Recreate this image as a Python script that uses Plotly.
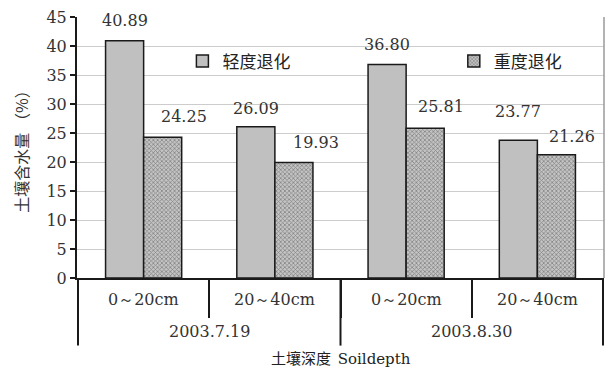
import plotly.graph_objects as go

# Sampling dates (outer level) and soil depth layers (inner level)
dates = ["2003.7.19", "2003.7.19", "2003.8.30", "2003.8.30"]
depths = ["0～20cm", "20～40cm", "0～20cm", "20～40cm"]
date_groups = ["2003.7.19", "2003.8.30"]

# Soil water content (%) by degradation level
light = [40.89, 26.09, 36.80, 23.77]
heavy = [24.25, 19.93, 25.81, 21.26]

series_names = ["轻度退化", "重度退化"]
y_ticks = [0, 5, 10, 15, 20, 25, 30, 35, 40, 45]

num_font = "DejaVu Serif"
cjk_font = "Noto Sans CJK SC"
axis_black = "#1a1a1a"

fig = go.Figure()
fig.add_trace(go.Bar(
    x=[dates, depths], y=light, name=series_names[0],
    marker=dict(color="#c0c0c0", line=dict(color=axis_black, width=1.5)),
    legend="legend",
))
fig.add_trace(go.Bar(
    x=[dates, depths], y=heavy, name=series_names[1],
    marker=dict(color="#b0b0b0", line=dict(color=axis_black, width=1.5),
                pattern=dict(shape="x", fgcolor="#444444", bgcolor="#c4c4c4",
                             size=3, solidity=0.45)),
    legend="legend2",
))

# value labels above the bars (heavy-degradation labels sit a bit to the right)
label_shift_light = [(0, 20), (0, 18), (0, 20), (0, 29)]
label_shift_heavy = [(21, 21), (22, 20), (16, 22), (16, 18)]
for vals, shifts, off in ((light, label_shift_light, -0.5), (heavy, label_shift_heavy, 0.5)):
    for i, v in enumerate(vals):
        fig.add_annotation(
            x=i + off * 0.29, y=v, xref="x", yref="y",
            text=f"{v:.2f}", showarrow=False,
            xshift=shifts[i][0], yshift=shifts[i][1],
            font=dict(family=num_font, size=16, color="#333333"),
        )

# two-level category labels under the axis
for i, d in enumerate(depths):
    fig.add_annotation(x=i, y=-0.084, xref="x", yref="paper", text=d,
                       showarrow=False, yanchor="middle",
                       font=dict(family=num_font, size=16, color="#333333"))
for j, g in enumerate(date_groups):
    fig.add_annotation(x=2 * j + 0.5, y=-0.205, xref="x", yref="paper", text=g,
                       showarrow=False, yanchor="middle",
                       font=dict(family=num_font, size=16, color="#333333"))
fig.add_annotation(x=0.5, y=-0.305, xref="paper", yref="paper",
                   text="土壤深度  <span style='font-family:DejaVu Serif'>Soildepth</span>",
                   showarrow=False, yanchor="middle",
                   font=dict(family=cjk_font, size=15, color="#222222"))

# dividers between sampling dates, running down through both label rows
for xb in (-0.5, 1.5, 3.5):
    fig.add_shape(type="line", xref="x", yref="paper", x0=xb, x1=xb,
                  y0=0, y1=-0.259, line=dict(color=axis_black, width=2))

# right frame line of the plot area
fig.add_shape(type="line", xref="paper", yref="paper", x0=1, x1=1, y0=0, y1=1,
              line=dict(color="#9a9a9a", width=1.5))

legend_font = dict(family=cjk_font, size=17, color="#222222")
fig.update_layout(
    width=612, height=368,
    margin=dict(l=77, r=8, t=15, b=90),
    paper_bgcolor="white", plot_bgcolor="white",
    barmode="group", bargap=0.42, bargroupgap=0,
    showlegend=True,
    legend=dict(x=0.2, y=0.83, xanchor="left", yanchor="middle",
                bgcolor="rgba(0,0,0,0)", font=legend_font),
    legend2=dict(x=0.715, y=0.83, xanchor="left", yanchor="middle",
                 bgcolor="rgba(0,0,0,0)", font=legend_font),
    xaxis=dict(
        type="multicategory",
        showline=True, linecolor=axis_black, linewidth=2,
        ticks="outside", tickson="boundaries", ticklen=38, tickwidth=2,
        tickcolor=axis_black, showticklabels=False, showdividers=False,
        showgrid=False,
    ),
    yaxis=dict(
        range=[0, 45], tickvals=y_ticks,
        showline=True, linecolor=axis_black, linewidth=2,
        ticks="outside", ticklen=5, tickwidth=1.5, tickcolor=axis_black,
        showgrid=True, gridcolor="#cccccc", gridwidth=1.2,
        tickfont=dict(family=num_font, size=16, color="#333333"),
        title=dict(text="土壤含水量 （%）", standoff=14,
                   font=dict(family=cjk_font, size=16, color="#333333")),
        zeroline=False,
    ),
)

fig.write_html("out.html")
